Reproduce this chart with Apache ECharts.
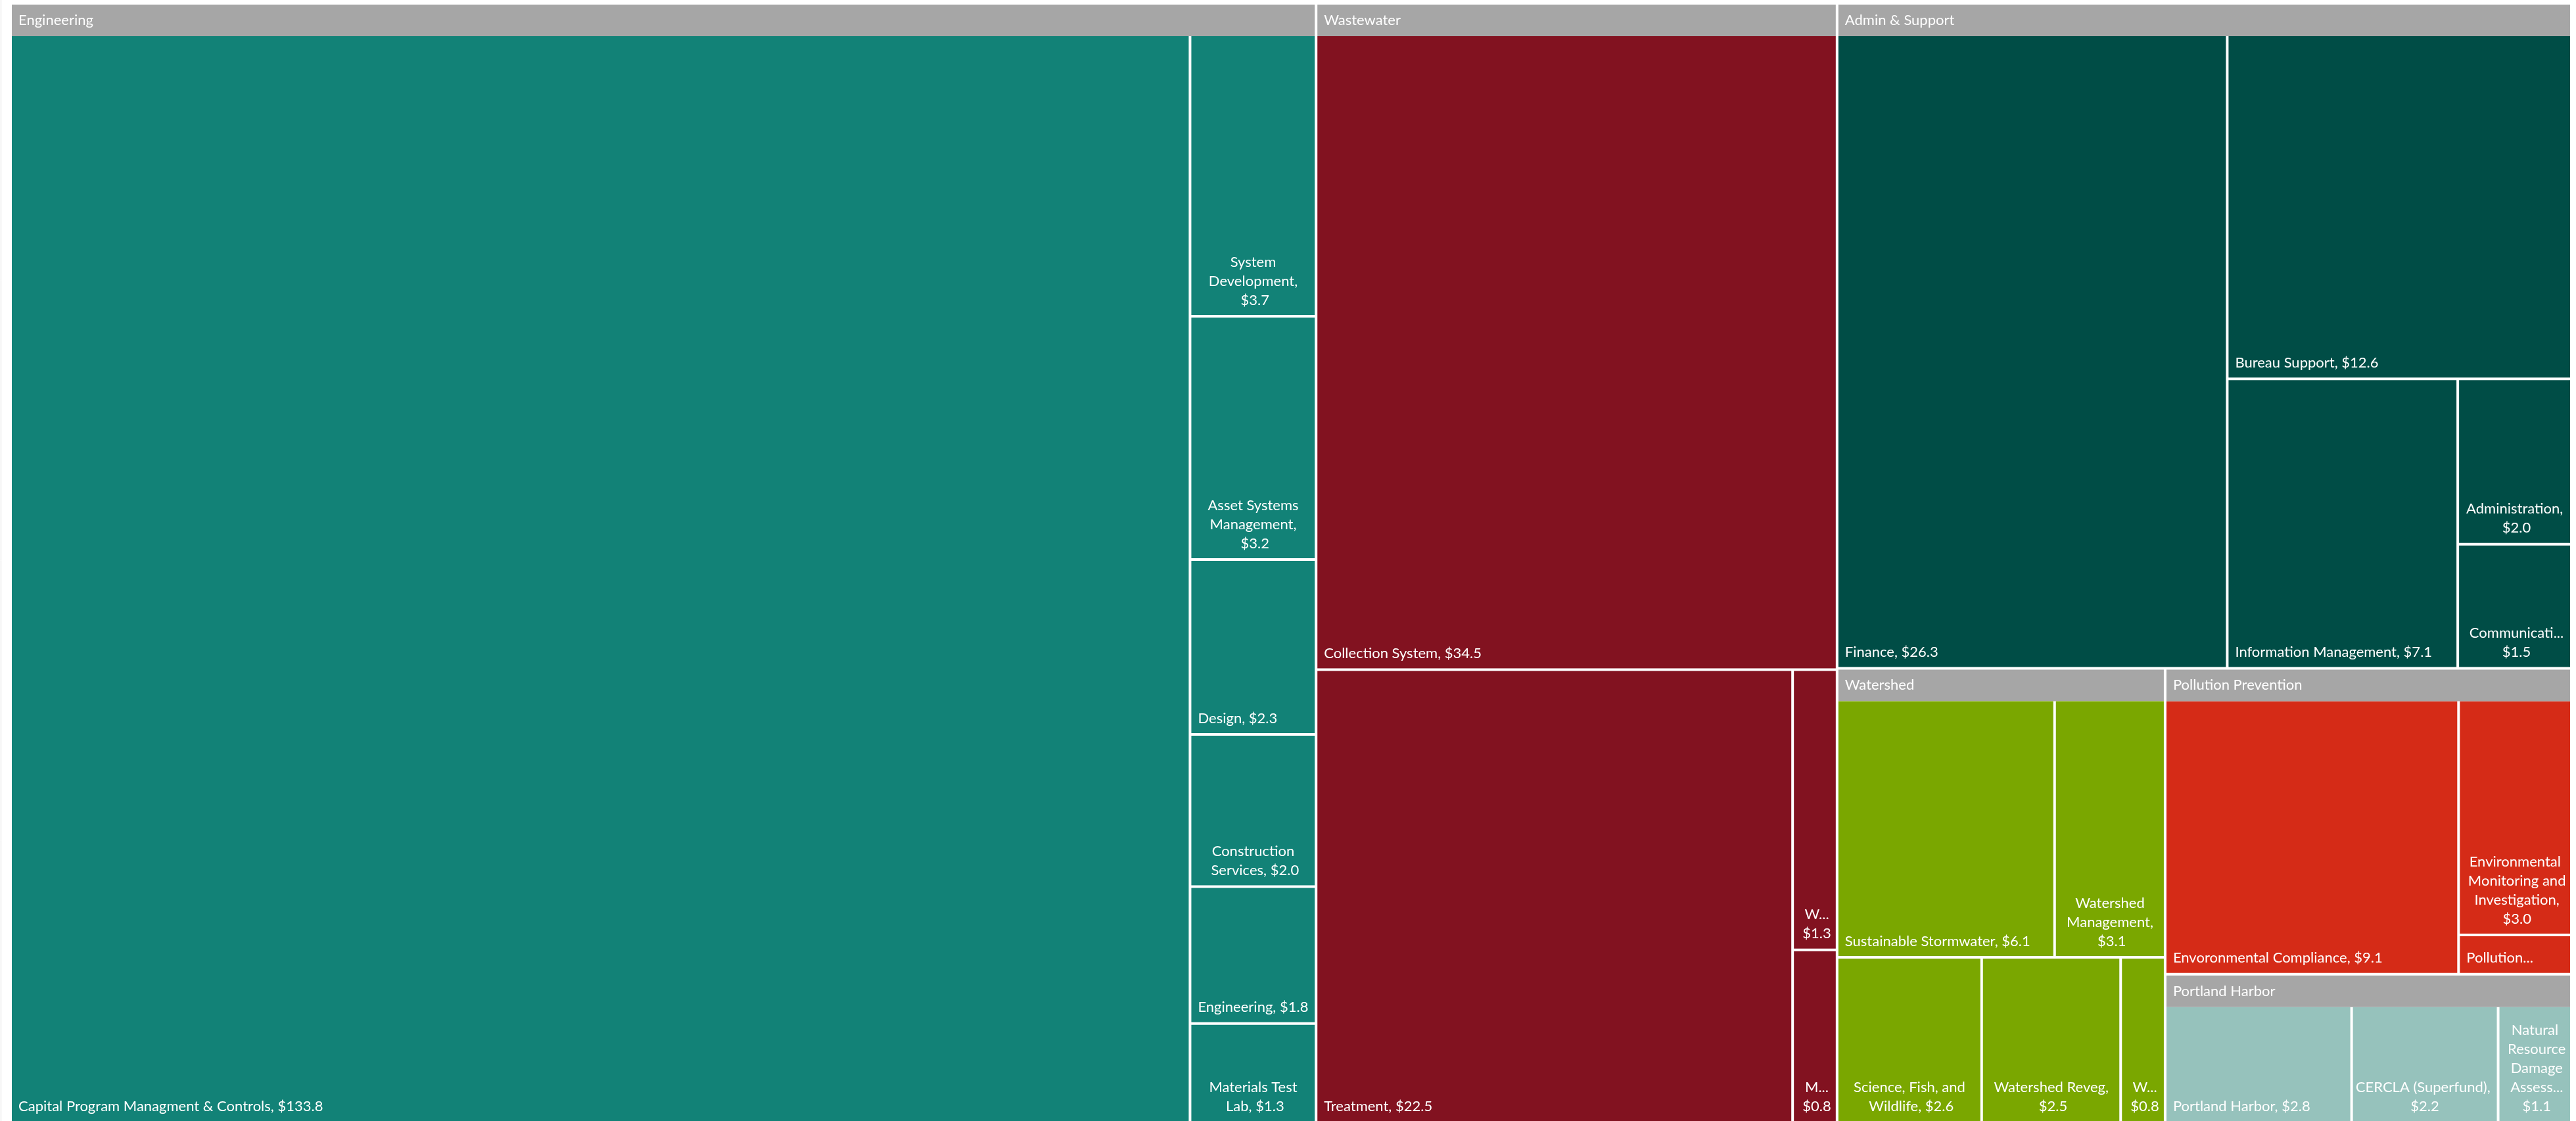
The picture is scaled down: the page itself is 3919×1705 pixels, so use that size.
<!DOCTYPE html>
<html>
<head>
<meta charset="utf-8">
<script src="https://cdn.jsdelivr.net/npm/echarts@6/dist/echarts.min.js"></script>
<style>
  html, body { margin: 0; padding: 0; background: #ffffff; }
  #main { width: 3919px; height: 1705px; }
</style>
</head>
<body>
<div id="main"></div>
<script>
// ---------------- data ----------------
const groupNames = ['Engineering', 'Wastewater', 'Admin & Support', 'Watershed', 'Pollution Prevention', 'Portland Harbor'];

const engineeringNames = ['Capital Program Managment & Controls', 'System Development', 'Asset Systems Management', 'Design', 'Construction Services', 'Engineering', 'Materials Test Lab'];
const engineeringValues = [133.8, 3.7, 3.2, 2.3, 2.0, 1.8, 1.3];

const wastewaterNames = ['Collection System', 'Treatment', 'W...', 'M...'];
const wastewaterValues = [34.5, 22.5, 1.3, 0.8];

const adminNames = ['Finance', 'Bureau Support', 'Information Management', 'Administration', 'Communicati...'];
const adminValues = [26.3, 12.6, 7.1, 2.0, 1.5];

const watershedNames = ['Sustainable Stormwater', 'Watershed Management', 'Science, Fish, and Wildlife', 'Watershed Reveg', 'W...'];
const watershedValues = [6.1, 3.1, 2.6, 2.5, 0.8];

const pollutionNames = ['Envoronmental Compliance', 'Environmental Monitoring and Investigation', 'Pollution...'];
const pollutionValues = [9.1, 3.0, 0.5];

const harborNames = ['Portland Harbor', 'CERCLA (Superfund)', 'Natural Resource Damage Assess...'];
const harborValues = [2.8, 2.2, 1.1];

// ---------------- style ----------------
const groupColors = ['#128277', '#821220', '#004d46', '#7aa700', '#d52b17', '#96c2bc'];
const headerGray = '#a6a6a6';
const FONT = 'Lato';
const FONT_SIZE = 22;
// labels that wrap onto several lines are centred in their cell
const centeredLabels = ['System Development', 'Asset Systems Management', 'Construction Services', 'Materials Test Lab',
  'W...', 'M...', 'Administration', 'Communicati...', 'Watershed Management', 'Science, Fish, and Wildlife',
  'Watershed Reveg', 'Environmental Monitoring and Investigation', 'CERCLA (Superfund)', 'Natural Resource Damage Assess...'];
// labels that need a narrower side padding to keep the trailing comma on the name line
const tightLabels = ['CERCLA (Superfund)'];
// layout hint: the first two Watershed programs share the upper row
const watershedUpperRowCount = 2;

function makeLeaves(names, values, color) {
  return names.map((n, i) => {
    const item = { name: n, value: values[i], itemStyle: { color: color } };
    if (centeredLabels.indexOf(n) >= 0) item.label = { position: 'insideBottom' };
    if (tightLabels.indexOf(n) >= 0) item.label = { position: 'insideBottom', padding: [4, 1, 8, 1] };
    return item;
  });
}

const groupLeaves = [
  makeLeaves(engineeringNames, engineeringValues, groupColors[0]),
  makeLeaves(wastewaterNames, wastewaterValues, groupColors[1]),
  makeLeaves(adminNames, adminValues, groupColors[2]),
  makeLeaves(watershedNames, watershedValues, groupColors[3]),
  makeLeaves(pollutionNames, pollutionValues, groupColors[4]),
  makeLeaves(harborNames, harborValues, groupColors[5])
];

// Watershed: wrap the upper row in an unlabeled sub-node
const ws = groupLeaves[3];
groupLeaves[3] = [{ name: '', itemStyle: { color: groupColors[3] }, children: ws.slice(0, watershedUpperRowCount) }]
  .concat(ws.slice(watershedUpperRowCount));

const treeData = groupNames.map((g, i) => ({
  name: g,
  itemStyle: { color: groupColors[i] },
  children: groupLeaves[i]
}));

const chart = echarts.init(document.getElementById('main'));
chart.setOption({
  animation: false,
  graphic: [{
    type: 'line', silent: true,
    shape: { x1: 1.5, y1: 0, x2: 1.5, y2: 1705 },
    style: { stroke: '#d9d9d9', lineWidth: 1 }
  }],
  series: [{
    type: 'treemap',
    left: 18, top: 7, right: 9, bottom: 0,
    roam: false,
    nodeClick: false,
    breadcrumb: { show: false },
    drillDownIcon: '',
    squareRatio: 0.8,
    sort: 'desc',
    visibleMin: 0,
    label: {
      show: true,
      position: 'insideBottomLeft',
      distance: 0,
      padding: [4, 4, 8, 10],
      color: '#ffffff',
      fontFamily: FONT,
      fontSize: FONT_SIZE,
      lineHeight: 29,
      overflow: 'break',
      formatter: function (p) {
        const v = '$' + Number(p.value).toFixed(1);
        return p.name.endsWith('...') ? p.name + '\n' + v : p.name + ', ' + v;
      }
    },
    itemStyle: { borderWidth: 0, gapWidth: 4, borderColor: '#ffffff' },
    emphasis: { disabled: true },
    levels: [
      { itemStyle: { borderWidth: 0, gapWidth: 4, borderColor: '#ffffff' } },
      {
        itemStyle: { borderWidth: 0, gapWidth: 4, borderColor: '#ffffff' },
        upperLabel: {
          show: true, height: 48,
          formatter: '{b}',
          color: '#ffffff', backgroundColor: headerGray,
          fontFamily: FONT, fontSize: FONT_SIZE,
          padding: [0, 0, 0, 10]
        }
      },
      { itemStyle: { borderWidth: 0, gapWidth: 4, borderColor: '#ffffff' } },
      { itemStyle: { borderWidth: 0, gapWidth: 4, borderColor: '#ffffff' } }
    ],
    data: treeData
  }]
});
</script>
</body>
</html>
